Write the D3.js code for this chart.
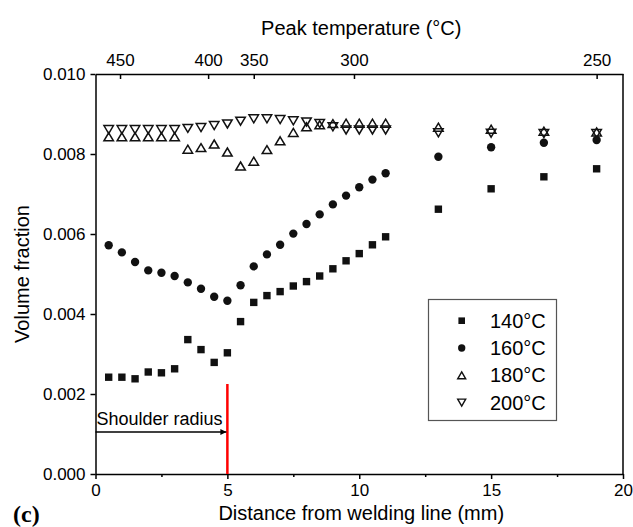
<!DOCTYPE html>
<html>
<head>
<meta charset="utf-8">
<script src="https://cdn.jsdelivr.net/npm/d3@7"></script>
<style>
  body { margin: 0; background: #fff; }
  svg { font-family: "Liberation Sans", Arial, sans-serif; }
</style>
</head>
<body>
<div id="chart"></div>
<script>
// distance from welding line (mm)
var distance = [0.5, 1.0, 1.5, 2.0, 2.5, 3.0, 3.5, 4.0, 4.5, 5.0, 5.5, 6.0, 6.5,
                7.0, 7.5, 8.0, 8.5, 9.0, 9.5, 10.0, 10.5, 11.0, 13, 15, 17, 19];

// volume fraction per ageing temperature
var vf140 = [0.00242, 0.00242, 0.00238, 0.00255, 0.00253, 0.00263, 0.00336, 0.00311, 0.00279,
             0.00303, 0.00381, 0.00429, 0.00446, 0.00456, 0.00470, 0.00481, 0.00495, 0.00513,
             0.00533, 0.00551, 0.00573, 0.00593, 0.00662, 0.00713, 0.00743, 0.00763];
var vf160 = [0.00572, 0.00554, 0.00530, 0.00509, 0.00503, 0.00495, 0.00479, 0.00463, 0.00443,
             0.00433, 0.00472, 0.00519, 0.00549, 0.00573, 0.00601, 0.00625, 0.00649, 0.00674,
             0.00696, 0.00717, 0.00736, 0.00752, 0.00793, 0.00817, 0.00828, 0.00835];
var vf180 = [0.00843, 0.00843, 0.00843, 0.00843, 0.00843, 0.00843, 0.00812, 0.00816, 0.00825,
             0.00805, 0.00770, 0.00782, 0.00811, 0.00833, 0.00854, 0.00868, 0.00873, 0.00876,
             0.00877, 0.00877, 0.00877, 0.00877, 0.00867, 0.00862, 0.00857, 0.00855];
var vf200 = [0.00861, 0.00861, 0.00861, 0.00861, 0.00861, 0.00861, 0.00864, 0.00866, 0.00871,
             0.00875, 0.00882, 0.00888, 0.00888, 0.00886, 0.00883, 0.00880, 0.00876, 0.00868,
             0.00860, 0.00860, 0.00860, 0.00860, 0.00853, 0.00852, 0.00851, 0.00851];

var seriesNames = ["140\u00B0C", "160\u00B0C", "180\u00B0C", "200\u00B0C"];

// top axis: peak temperature placed at distance positions
var peakTempPos = [0.93, 4.27, 6.0, 9.8, 19.0];
var peakTempLabels = ["450", "400", "350", "300", "250"];

var bottomTicks = [0, 5, 10, 15, 20];
var bottomMinor = [2.5, 7.5, 12.5, 17.5];
var leftTicks = [0, 0.002, 0.004, 0.006, 0.008, 0.010];

var shoulderRadius = 5;

var W = 633, H = 527;
var plotL = 95.5, plotR = 623, plotT = 74, plotB = 474;

var svg = d3.select("#chart").append("svg")
            .attr("width", W)
            .attr("height", H);

var x = d3.scaleLinear().domain([0, 20]).range([plotL, plotR]);
var y = d3.scaleLinear().domain([0, 0.010]).range([plotB, plotT]);

// axes
svg.append("g")
   .attr("transform", "translate(0," + plotB + ")")
   .call(d3.axisBottom(x).tickValues(bottomTicks).tickFormat(d3.format("d"))
           .tickSize(5).tickSizeOuter(0).tickPadding(5));

svg.append("g")
   .attr("transform", "translate(0," + plotB + ")")
   .call(d3.axisBottom(x).tickValues(bottomMinor).tickFormat("").tickSize(3).tickSizeOuter(0))
   .select(".domain").remove();

svg.append("g")
   .attr("transform", "translate(" + plotL + ",0)")
   .call(d3.axisLeft(y).tickValues(leftTicks).tickFormat(d3.format(".3f"))
           .tickSize(5).tickSizeOuter(0).tickPadding(5));

svg.append("g")
   .attr("transform", "translate(0," + plotT + ")")
   .call(d3.axisTop(x).tickValues(peakTempPos)
           .tickFormat(function(d, i) { return peakTempLabels[i]; })
           .tickSizeInner(-5).tickSizeOuter(0).tickPadding(8));

svg.append("line")
   .attr("x1", plotR).attr("x2", plotR)
   .attr("y1", plotT).attr("y2", plotB)
   .attr("stroke", "#000")
   .attr("stroke-width", 1.5);

svg.selectAll(".domain, .tick line")
   .attr("stroke", "#000")
   .attr("stroke-width", 1.5);
svg.selectAll(".tick text")
   .attr("font-size", 17)
   .attr("fill", "#000")
   .attr("font-family", "Liberation Sans, Arial, sans-serif");

// axis titles
svg.append("text")
   .attr("x", (plotL + plotR) / 2 + 2)
   .attr("y", 35)
   .attr("text-anchor", "middle")
   .attr("font-size", 20)
   .text("Peak temperature (\u00B0C)");

svg.append("text")
   .attr("x", (plotL + plotR) / 2 + 2)
   .attr("y", 520)
   .attr("text-anchor", "middle")
   .attr("font-size", 20)
   .text("Distance from welding line (mm)");

svg.append("text")
   .attr("transform", "translate(29," + (plotT + plotB) / 2 + ") rotate(-90)")
   .attr("text-anchor", "middle")
   .attr("font-size", 20)
   .text("Volume fraction");

svg.append("text")
   .attr("x", 13)
   .attr("y", 522)
   .attr("font-family", "Liberation Serif, Times New Roman, serif")
   .attr("font-weight", "bold")
   .attr("font-size", 24)
   .text("(c)");

// shoulder radius marker
svg.append("line")
   .attr("x1", x(shoulderRadius)).attr("x2", x(shoulderRadius))
   .attr("y1", 384).attr("y2", plotB)
   .attr("stroke", "#ff0000")
   .attr("stroke-width", 2.5);

svg.append("defs").append("marker")
   .attr("id", "arrow")
   .attr("viewBox", "0 0 10 10")
   .attr("refX", 10).attr("refY", 5)
   .attr("markerWidth", 10).attr("markerHeight", 6)
   .attr("markerUnits", "userSpaceOnUse")
   .attr("orient", "auto")
   .append("path")
   .attr("d", "M0,0 L10,5 L0,10 Z")
   .attr("fill", "#000");

svg.append("line")
   .attr("x1", x(0)).attr("x2", x(shoulderRadius) - 1)
   .attr("y1", 432).attr("y2", 432)
   .attr("stroke", "#000")
   .attr("stroke-width", 1.3)
   .attr("marker-end", "url(#arrow)");

svg.append("text")
   .attr("x", x(0) + 1)
   .attr("y", 425)
   .attr("font-size", 18)
   .text("Shoulder radius");

// marker shapes
function triPath(up, w, h) {
    if (up) return "M0," + (-h/2) + " L" + (w/2) + "," + (h/2) + " L" + (-w/2) + "," + (h/2) + " Z";
    return "M0," + (h/2) + " L" + (w/2) + "," + (-h/2) + " L" + (-w/2) + "," + (-h/2) + " Z";
}

function drawSeries(vals, kind) {
    var g = svg.append("g");
    var pts = g.selectAll("path").data(vals).enter().append("path")
               .attr("transform", function(d, i) { return "translate(" + x(distance[i]) + "," + y(d) + ")"; });
    if (kind === "square") {
        pts.attr("d", "M-3.7,-3.7 H3.7 V3.7 H-3.7 Z").attr("fill", "#111");
    } else if (kind === "circle") {
        pts.attr("d", d3.symbol(d3.symbolCircle, 55)).attr("fill", "#111");
    } else {
        pts.attr("d", triPath(kind === "up", 9.5, 8))
           .attr("fill", "none")
           .attr("stroke", "#111")
           .attr("stroke-width", 1.5);
    }
}

drawSeries(vf200, "down");
drawSeries(vf180, "up");
drawSeries(vf160, "circle");
drawSeries(vf140, "square");

// legend
var lg = svg.append("g");
lg.append("rect")
  .attr("x", 428.5).attr("y", 299.5)
  .attr("width", 128).attr("height", 121)
  .attr("fill", "#fff")
  .attr("stroke", "#555")
  .attr("stroke-width", 1.2);

var kinds = ["square", "circle", "up", "down"];
kinds.forEach(function(k, i) {
    var cy = 320.7 + i * 27.3;
    var m = lg.append("path").attr("transform", "translate(461.7," + cy + ")");
    if (k === "square") m.attr("d", "M-3.3,-3.3 H3.3 V3.3 H-3.3 Z").attr("fill", "#111");
    else if (k === "circle") m.attr("d", d3.symbol(d3.symbolCircle, 42)).attr("fill", "#111");
    else m.attr("d", triPath(k === "up", 8, 7)).attr("fill", "none").attr("stroke", "#111").attr("stroke-width", 1.4);
    lg.append("text")
      .attr("x", 490)
      .attr("y", cy + 7)
      .attr("font-size", 20)
      .text(seriesNames[i]);
});
</script>
</body>
</html>
